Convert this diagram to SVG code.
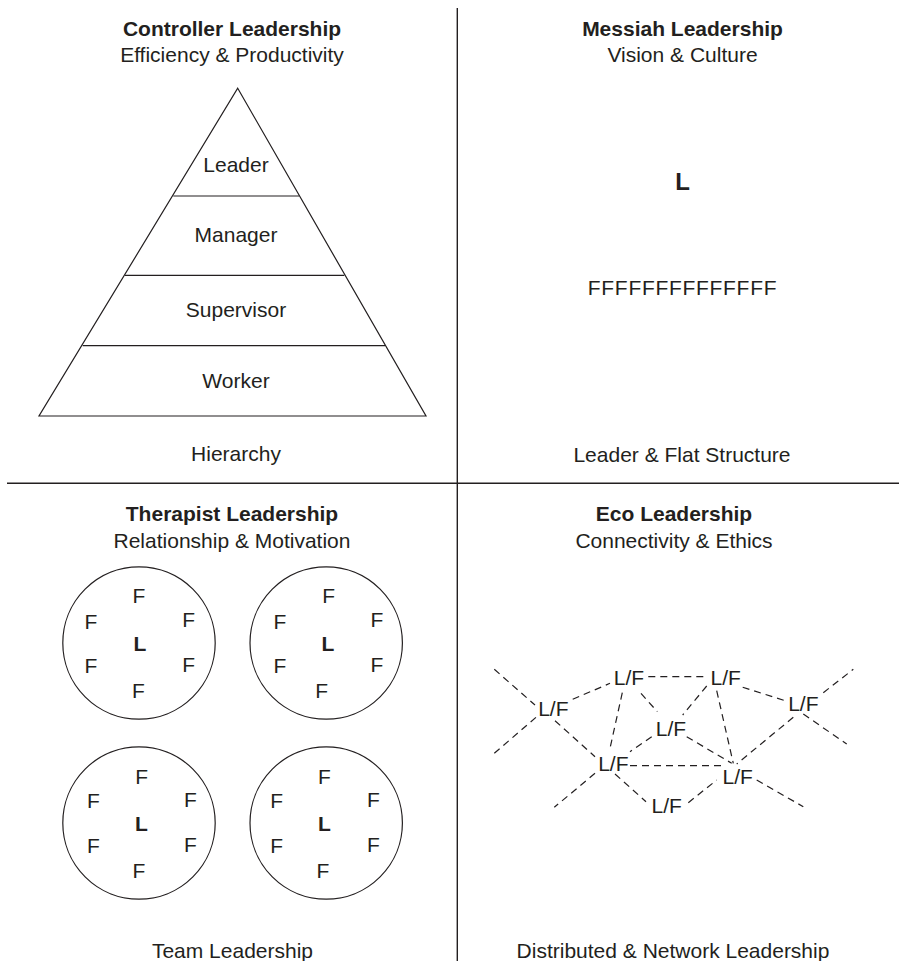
<svg xmlns="http://www.w3.org/2000/svg" width="899" height="961" viewBox="0 0 899 961">
<style>
text{font-family:"Liberation Sans",Arial,sans-serif;font-size:21px;fill:#231f20;text-anchor:middle}
.b{font-weight:bold}
.ln{stroke:#231f20;stroke-width:1.4;fill:none}
.sh{stroke:#231f20;stroke-width:1.2;fill:none}
.d{stroke:#231f20;stroke-width:1.2;fill:none;stroke-dasharray:7 5}
</style>
<rect width="899" height="961" fill="#fff"/>
<g id="dividers">
<line class="ln" x1="457.3" y1="8" x2="457.3" y2="961"/>
<line class="ln" x1="7" y1="483.3" x2="899" y2="483.3"/>
</g>
<g id="controller">
<text class="b" x="232" y="36">Controller Leadership</text>
<text x="232" y="62">Efficiency &amp; Productivity</text>
<polygon class="sh" points="237.7,88.3 426,416 39,416"/>
<line class="sh" x1="173.3" y1="196" x2="299" y2="196"/>
<line class="sh" x1="125" y1="275.3" x2="344.3" y2="275.3"/>
<line class="sh" x1="82.7" y1="345.7" x2="385" y2="345.7"/>
<text x="236" y="172">Leader</text>
<text x="236" y="242">Manager</text>
<text x="236" y="317">Supervisor</text>
<text x="236" y="388">Worker</text>
<text x="236" y="461">Hierarchy</text>
</g>
<g id="messiah">
<text class="b" x="682.5" y="36">Messiah Leadership</text>
<text x="682.5" y="62">Vision &amp; Culture</text>
<text class="b" x="682.5" y="190" style="font-size:24px">L</text>
<text x="682.5" y="295" style="letter-spacing:0.7px">FFFFFFFFFFFFFF</text>
<text x="682" y="461.7">Leader &amp; Flat Structure</text>
</g>
<g id="therapist">
<text class="b" x="232" y="521">Therapist Leadership</text>
<text x="232" y="548">Relationship &amp; Motivation</text>
<g id="team1">
<circle class="sh" cx="139" cy="643" r="76.2"/>
<text x="139" y="603.3">F</text>
<text x="91" y="629">F</text>
<text x="188.7" y="626.7">F</text>
<text class="b" x="140" y="650.7">L</text>
<text x="91" y="673.3">F</text>
<text x="188.7" y="672.3">F</text>
<text x="138.3" y="698.3">F</text>
</g>
<g id="team2">
<circle class="sh" cx="326.2" cy="643" r="76.2"/>
<text x="328.7" y="603.3">F</text>
<text x="280" y="629">F</text>
<text x="377" y="626.7">F</text>
<text class="b" x="328" y="650.7">L</text>
<text x="280" y="673.3">F</text>
<text x="377" y="672.3">F</text>
<text x="321.7" y="698.3">F</text>
</g>
<g id="team3">
<circle class="sh" cx="139" cy="823" r="76.2"/>
<text x="141.7" y="784.3">F</text>
<text x="93.3" y="808.3">F</text>
<text x="190.3" y="806.7">F</text>
<text class="b" x="141.3" y="830.7">L</text>
<text x="93.3" y="853.3">F</text>
<text x="190.3" y="851.7">F</text>
<text x="139" y="878.3">F</text>
</g>
<g id="team4">
<circle class="sh" cx="326.2" cy="823" r="76.2"/>
<text x="324.3" y="784.3">F</text>
<text x="276.7" y="808.3">F</text>
<text x="373.3" y="806.7">F</text>
<text class="b" x="324.3" y="830.7">L</text>
<text x="276.7" y="853.3">F</text>
<text x="373.3" y="851.7">F</text>
<text x="323" y="878.3">F</text>
</g>
<text x="232.5" y="958">Team Leadership</text>
</g>
<g id="eco">
<text class="b" x="674" y="521">Eco Leadership</text>
<text x="674" y="548">Connectivity &amp; Ethics</text>
<text x="673" y="958">Distributed &amp; Network Leadership</text>
</g>
<g id="connectors">
<line class="d" x1="494.3" y1="669.3" x2="535" y2="705"/>
<line class="d" x1="555" y1="720.7" x2="595" y2="756.7"/>
<line class="d" x1="494.3" y1="753.3" x2="536.7" y2="716.7"/>
<line class="d" x1="572.7" y1="699.3" x2="610" y2="683.3"/>
<line class="d" x1="648.3" y1="676.7" x2="706.7" y2="676.7"/>
<line class="d" x1="622.3" y1="692.7" x2="610" y2="748.3"/>
<line class="d" x1="641" y1="693.3" x2="657.3" y2="711.7"/>
<line class="d" x1="706.7" y1="686" x2="682.7" y2="715"/>
<line class="d" x1="742.7" y1="687.3" x2="788.3" y2="701.7"/>
<line class="d" x1="716.7" y1="690.7" x2="733.3" y2="763.3"/>
<line class="d" x1="823.3" y1="692.7" x2="853.3" y2="669.3"/>
<line class="d" x1="803.3" y1="714" x2="846.7" y2="744"/>
<line class="d" x1="793.3" y1="717.3" x2="736.7" y2="764"/>
<line class="d" x1="651.7" y1="736.7" x2="630" y2="751.7"/>
<line class="d" x1="686.7" y1="736.7" x2="731.7" y2="763.3"/>
<line class="d" x1="630" y1="765.7" x2="723.3" y2="765.7"/>
<line class="d" x1="595" y1="773.3" x2="554.3" y2="807.3"/>
<line class="d" x1="615" y1="774" x2="646" y2="801.7"/>
<line class="d" x1="688.3" y1="802.7" x2="716.7" y2="780"/>
<line class="d" x1="756.7" y1="780" x2="803.3" y2="806.7"/>
</g>
<g id="network-nodes">
<text x="553.3" y="716">L/F</text>
<text x="629" y="685">L/F</text>
<text x="725.7" y="685">L/F</text>
<text x="803.3" y="710.7">L/F</text>
<text x="671" y="736">L/F</text>
<text x="613.3" y="770.7">L/F</text>
<text x="737.7" y="784">L/F</text>
<text x="666.7" y="813.3">L/F</text>
</g>
</svg>
